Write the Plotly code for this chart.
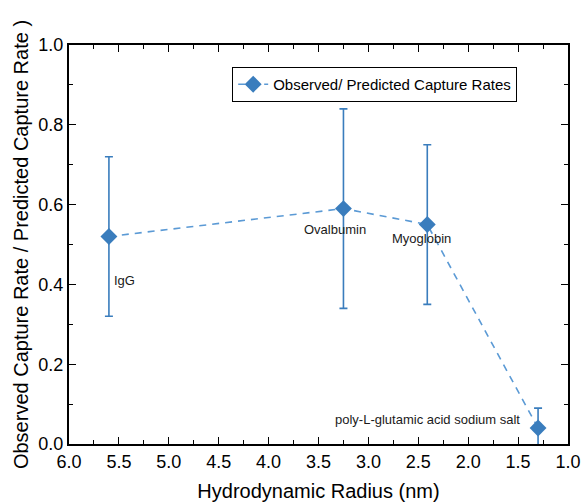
import plotly.graph_objects as go

radius = [5.6, 3.25, 2.41, 1.3]
ratio = [0.52, 0.59, 0.55, 0.04]
err = [0.20, 0.25, 0.20, 0.05]
names = ["IgG", "Ovalbumin", "Myoglobin", "poly-L-glutamic acid sodium salt"]
label_y = [0.41, 0.537, 0.515, 0.062]
label_x = [5.57, 3.33, 2.47, 1.46]
label_anchor = ["left", "center", "center", "right"]

blue = "#3a7dbd"
fig = go.Figure()
fig.add_trace(go.Scatter(
    x=radius, y=ratio, mode="lines+markers",
    name="Observed/ Predicted Capture Rates",
    line=dict(color="#5b9ad5", width=1.6, dash="7px,6px"),
    marker=dict(symbol="diamond", size=13, color=blue),
    error_y=dict(type="data", array=err, color=blue, thickness=1.6, width=4),
    cliponaxis=False,
))
for x, y, t, a in zip(label_x, label_y, names, label_anchor):
    fig.add_annotation(x=x, y=y, text=t, showarrow=False, xanchor=a,
                       yanchor="middle", font=dict(size=13, color="#1a1a1a",
                                                   family="Liberation Sans"))

axis_common = dict(showline=True, linecolor="black", linewidth=2, mirror="allticks",
                   ticks="inside", ticklen=7, tickwidth=1.3, tickcolor="black",
                   showgrid=False, zeroline=False, automargin=False,
                   tickfont=dict(size=18, family="Liberation Sans", color="black"),
                   title_font=dict(size=20, family="Liberation Sans", color="black"))
fig.update_xaxes(range=[6.0, 1.0], dtick=0.5, tickformat=".1f",
                 minor=dict(ticks="inside", ticklen=4, dtick=0.25, tickcolor="black"),
                 title_text="Hydrodynamic Radius (nm)", title_standoff=13, **axis_common)
fig.update_yaxes(range=[0, 1.0], dtick=0.2, tickformat=".1f",
                 minor=dict(ticks="inside", ticklen=4, dtick=0.1, tickcolor="black"),
                 title_text="Observed Capture Rate / Predicted Capture Rate )",
                 title_standoff=4, **axis_common)
fig.update_layout(
    width=581, height=504, margin=dict(l=69, r=13, t=45, b=60),
    plot_bgcolor="white", paper_bgcolor="white",
    showlegend=True,
    legend=dict(x=0.327, y=0.945, xanchor="left", yanchor="top",
                bordercolor="black", borderwidth=1, bgcolor="white",
                font=dict(size=15, family="Liberation Sans", color="black"),
                tracegroupgap=0, itemwidth=30),
)
fig.write_html("out.html")
